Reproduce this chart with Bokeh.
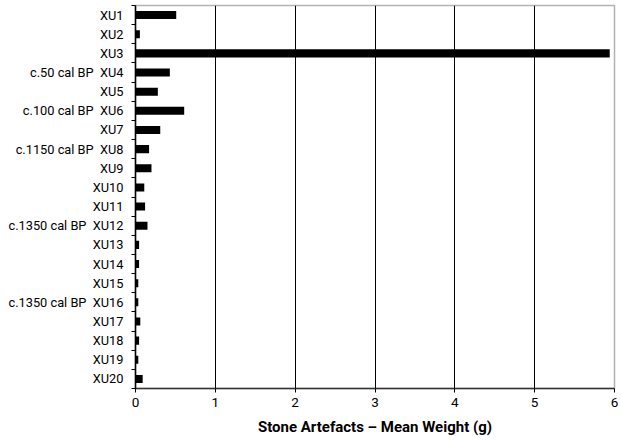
from bokeh.plotting import figure
from bokeh.models import Range1d, LinearAxis, FixedTicker, ColumnDataSource
from bokeh.embed import file_html
from bokeh.resources import INLINE

units = ["XU1", "XU2", "XU3", "XU4", "XU5", "XU6", "XU7", "XU8", "XU9", "XU10",
         "XU11", "XU12", "XU13", "XU14", "XU15", "XU16", "XU17", "XU18", "XU19", "XU20"]
mean_weight = [0.51, 0.055, 5.94, 0.43, 0.28, 0.61, 0.31, 0.17, 0.20, 0.11,
               0.12, 0.15, 0.045, 0.045, 0.035, 0.035, 0.06, 0.045, 0.035, 0.09]
date_labels = {"XU4": "c.50 cal BP", "XU6": "c.100 cal BP", "XU8": "c.1150 cal BP",
               "XU12": "c.1350 cal BP", "XU16": "c.1350 cal BP"}
x_ticks = [0, 1, 2, 3, 4, 5, 6]
x_title = "Stone Artefacts \u2013 Mean Weight (g)"

FONT = "Roboto"

n = len(units)
pos = [i + 0.5 for i in range(n)]
bounds = list(range(n + 1))
labels = [(date_labels[u] + "\u00a0\u00a0" + u) if u in date_labels else u for u in units]

src = ColumnDataSource(dict(y=pos, w=mean_weight))

p = figure(width=622, height=441, output_backend="svg", toolbar_location=None,
           y_range=Range1d(n, 0), x_range=Range1d(0, 6),
           x_axis_location=None, y_axis_location=None,
           min_border_left=135, min_border_right=8, min_border_top=5,
           min_border_bottom=53)

p.hbar(y="y", right="w", left=0, height=0.42, source=src,
       fill_color="black", line_color=None)

p.outline_line_color = "#b3b3b3"
p.outline_line_width = 1.5

p.ygrid.grid_line_color = None
p.xgrid.ticker = FixedTicker(ticks=x_ticks[1:-1])
p.xgrid.grid_line_color = "black"
p.xgrid.grid_line_width = 1

# x axis
xa = LinearAxis(ticker=FixedTicker(ticks=x_ticks), axis_label=x_title)
xa.axis_line_color = "#333333"
xa.axis_line_width = 1.5
xa.major_tick_line_color = "black"
xa.major_tick_in = 0
xa.major_tick_out = 4
xa.minor_tick_line_color = None
xa.major_label_text_font = FONT
xa.major_label_text_font_size = "13.5px"
xa.major_label_text_color = "black"
xa.major_label_standoff = 5
xa.axis_label_text_font = FONT
xa.axis_label_text_font_size = "15px"
xa.axis_label_text_font_style = "bold"
xa.axis_label_text_color = "black"
xa.axis_label_standoff = 8
p.add_layout(xa, "below")

# y axis: labels at category centres, tick marks at category boundaries
ya = LinearAxis(ticker=FixedTicker(ticks=pos, minor_ticks=bounds))
ya.axis_line_color = "black"
ya.axis_line_width = 1.5
ya.major_tick_line_color = None
ya.major_tick_in = 0
ya.major_tick_out = 0
ya.minor_tick_line_color = "black"
ya.minor_tick_in = 0
ya.minor_tick_out = 4
ya.major_label_standoff = 8
ya.major_label_text_font = FONT
ya.major_label_text_font_size = "12.8px"
ya.major_label_text_color = "black"
ya.major_label_overrides = {y: lab for y, lab in zip(pos, labels)}
p.add_layout(ya, "left")

open("out.html", "w").write(file_html(p, INLINE))
